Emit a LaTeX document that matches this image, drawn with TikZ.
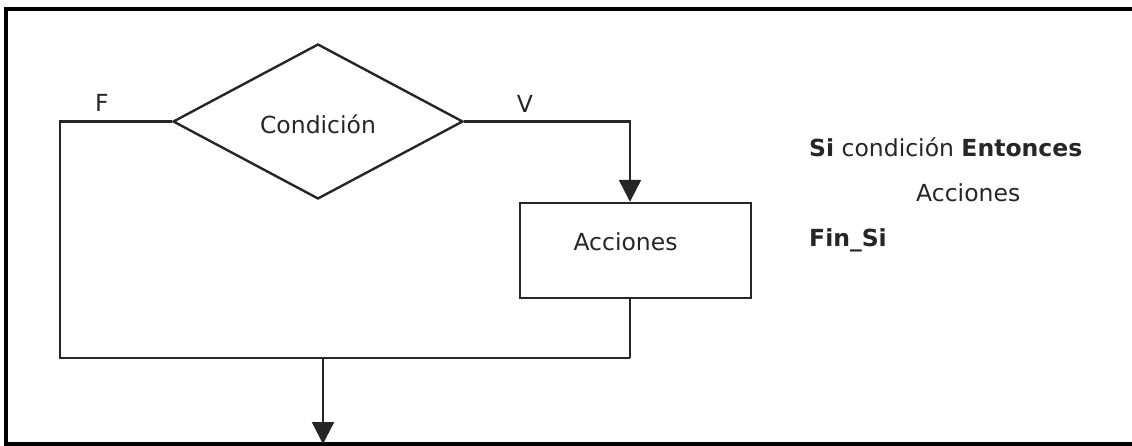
\documentclass[tikz,border=0pt]{standalone}
\usepackage{fontspec}
\setmainfont{DejaVu Sans}
\usetikzlibrary{shapes.geometric,arrows.meta}
\begin{document}
\begin{tikzpicture}[x=1pt,y=-1pt,line width=2.4pt,
  font=\fontsize{23.5pt}{28pt}\selectfont,
  flowline/.style={draw=black!85,line width=2.4pt},
  flowarrow/.style={flowline,-{Triangle[length=22pt,width=22pt]}},
  txt/.style={anchor=base,inner sep=0pt,text=black!85},
  decision/.style={diamond,draw=black!85,line width=2.4pt,inner sep=0pt,minimum width=290pt,minimum height=155pt},
  process/.style={rectangle,draw=black!85,line width=2.4pt,inner sep=0pt,minimum width=231pt,minimum height=95pt}]
\useasboundingbox (0,0) rectangle (1132,446);
% frame
\draw[line width=3.5pt] (1136,9) -- (6,9) -- (6,444) -- (1136,444);
% nodes
\node[decision] (cond) at (318,121.5) {};
\node[txt] (condt) at (318,134) {Condición};
\node[process] (acc) at (635.5,250.5) {};
\node[txt] (acct) at (625.5,251) {Acciones};
\node[txt] (lf) at (102,112) {F};
\node[txt] (lv) at (525,113) {V};
% coordinates
\coordinate (fl) at (60,121.5);
\coordinate (bl) at (60,358);
\coordinate (br) at (630,358);
\coordinate (vr) at (630,121.5);
\coordinate (exit) at (323,444);
% connectors
\draw[flowline] (cond.west) -- (fl) -- (bl) -- (br);
\draw[flowarrow] (cond.east) -- (vr) -- (vr |- acc.north);
\draw[flowline] (acc.south -| br) -- (br);
\draw[flowarrow] (bl -| exit) -- (exit);
% pseudocode
\node[txt,anchor=base west] (p1) at (808,157) {\textbf{Si} condición \textbf{Entonces}};
\node[txt,anchor=base west] (p2) at (915,202) {Acciones};
\node[txt,anchor=base west] (p3) at (808,247) {\textbf{Fin\_Si}};
\end{tikzpicture}
\end{document}
